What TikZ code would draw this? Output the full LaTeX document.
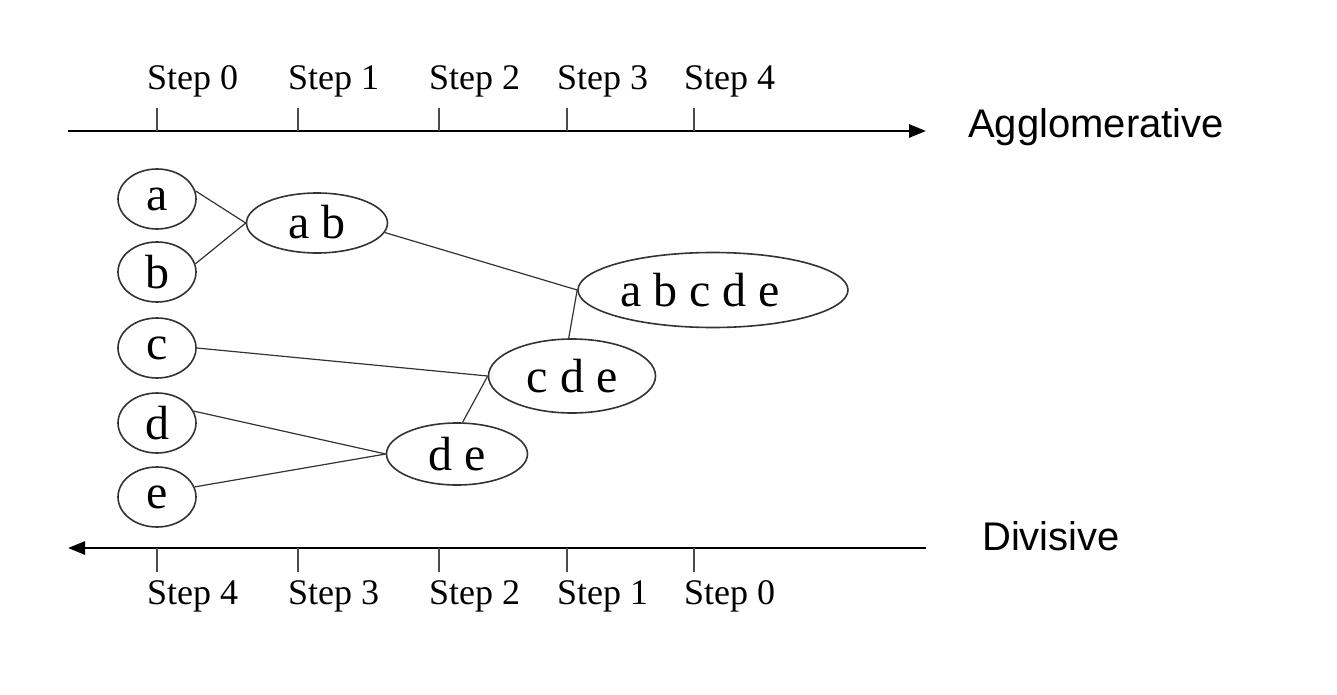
\documentclass[tikz,border=0pt]{standalone}
\usepackage{fontspec}
\setmainfont{Liberation Serif}
\newfontfamily\sansf{Liberation Sans}
\usetikzlibrary{shapes.geometric,arrows.meta}
\begin{document}
\begin{tikzpicture}[x=1pt,y=-1pt,
  cl/.style={draw=black!80,line width=1.6pt,ellipse,inner sep=0pt,
    font=\fontsize{48}{52}\selectfont},
  conn/.style={draw=black!80,line width=1.2pt},
  axis/.style={line width=2.8pt,-{Triangle[length=17pt,width=13pt]}},
  tick/.style={line width=1.2pt,draw=black!70},
  steplbl/.style={font=\fontsize{36}{40}\selectfont,anchor=base west,inner sep=0pt},
  dirlbl/.style={font=\sansf\fontsize{40}{44}\selectfont,anchor=base west,inner sep=0pt}]
\path[use as bounding box] (0,0) rectangle (1337,695);
% top axis
\coordinate (t0) at (68,131);
\coordinate (t1) at (926,131);
\draw[axis] (t0) -- (t1);
\foreach \x/\n in {157/0,298/1,439/2,567/3,694/4}{
  \coordinate (ta\n) at (\x,108);
  \coordinate (tb\n) at (\x,131);
  \draw[tick] (ta\n) -- (tb\n);
  \node[steplbl] (ts\n) at (\x-10,90) {Step \n};
}
\node[dirlbl] (agg) at (968,138) {Agglomerative};
% bottom axis
\coordinate (b0) at (926,548);
\coordinate (b1) at (68,548);
\draw[axis] (b0) -- (b1);
\foreach \x/\n in {157/4,298/3,439/2,567/1,694/0}{
  \coordinate (ba\n) at (\x,548);
  \coordinate (bb\n) at (\x,572);
  \draw[tick] (ba\n) -- (bb\n);
  \node[steplbl] (bs\n) at (\x-10,604) {Step \n};
}
\node[dirlbl] (div) at (982,550) {Divisive};
% clusters
\node[cl,minimum width=78pt,minimum height=60pt] (a) at (157,199) {a};
\node[cl,minimum width=78pt,minimum height=60pt] (b) at (157,272) {b};
\node[cl,minimum width=78pt,minimum height=60pt] (c) at (157,348) {c};
\node[cl,minimum width=78pt,minimum height=60pt] (d) at (157,423) {d};
\node[cl,minimum width=78pt,minimum height=60pt] (e) at (157,497) {e};
\node[cl,minimum width=141pt,minimum height=60pt] (ab) at (317,223) {\raisebox{3pt}{a b}};
\node[cl,minimum width=141pt,minimum height=62pt] (de) at (457,454) {d e};
\node[cl,minimum width=167pt,minimum height=74pt] (cde) at (572,376) {c d e};
\node[cl,minimum width=270pt,minimum height=75pt] (abcde) at (713,290) {a b c d e\kern26pt};
% connectors
\draw[conn] (a.12) -- (ab.west);
\draw[conn] (b.12) -- (ab.west);
\draw[conn] (ab.-8) -- (abcde.west);
\draw[conn] (abcde.west) -- (cde.95);
\draw[conn] (c.east) -- (cde.west);
\draw[conn] (cde.west) -- (de.80);
\draw[conn] (d.18) -- (de.west);
\draw[conn] (e.15) -- (de.west);
\end{tikzpicture}
\end{document}
